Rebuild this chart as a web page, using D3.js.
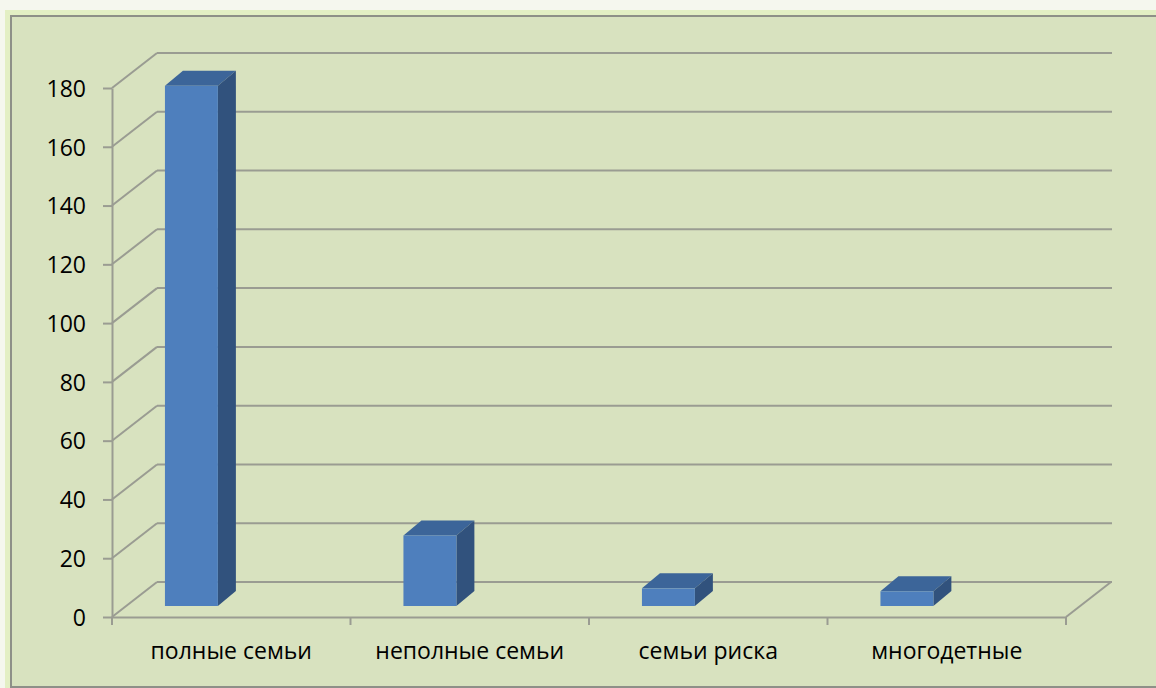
<!DOCTYPE html>
<html>
<head>
<meta charset="utf-8">
<script src="https://cdn.jsdelivr.net/npm/d3@7"></script>
<style>
  body { margin: 0; background: #f5f7ee; }
  svg { display: block; }
  text { font-family: "Open Sans", "Noto Sans", sans-serif; fill: #000; }
</style>
</head>
<body>
<div id="chart"></div>
<script>
// data
const categories = ["полные семьи", "неполные семьи", "семьи риска", "многодетные"];
const values = [177, 24, 6, 5];
const yTicks = [0, 20, 40, 60, 80, 100, 120, 140, 160, 180];

const W = 1156, H = 688;
// plot area (front plane)
const pLeft = 112, pRight = 1066, pBottom = 617, pTop = 88;
// depth of the 3d box
const wallDx = 45, wallDy = -35;
// bar placement inside the depth
const barShift = -11, barDx = 18, barDy = -15;
const gridColor = "#9a9c92";

var svg = d3.select("#chart")
    .append("svg")
    .attr("width", W)
    .attr("height", H);

// backgrounds
svg.append("rect").attr("x", 5).attr("y", 10).attr("width", W - 5).attr("height", H - 10).attr("fill", "#e3efc4");
svg.append("rect")
    .attr("x", 11).attr("y", 16).attr("width", W).attr("height", H - 17)
    .attr("fill", "#d8e2bf")
    .attr("stroke", "#8e9088")
    .attr("stroke-width", 2);

var y = d3.scaleLinear().domain([0, 180]).range([pBottom, pTop]);
var x = d3.scaleBand().domain(categories).range([pLeft, pRight]).padding(0);
const bw = x.bandwidth();

// back wall gridlines + side wall diagonals
var grid = svg.append("g").attr("stroke", gridColor).attr("stroke-width", 2).attr("fill", "none");
grid.selectAll("line.back")
    .data(yTicks)
    .join("line")
    .attr("class", "back")
    .attr("x1", pLeft + wallDx).attr("x2", pRight + wallDx + 1)
    .attr("y1", d => y(d) + wallDy).attr("y2", d => y(d) + wallDy);
grid.selectAll("line.side")
    .data(yTicks)
    .join("line")
    .attr("class", "side")
    .attr("x1", pLeft).attr("x2", pLeft + wallDx)
    .attr("y1", d => y(d)).attr("y2", d => y(d) + wallDy);
// floor: right edge
grid.append("line")
    .attr("x1", pRight).attr("y1", y(0))
    .attr("x2", pRight + wallDx).attr("y2", y(0) + wallDy);

// y axis
var yAxis = svg.append("g")
    .attr("transform", `translate(${pLeft},0)`)
    .call(d3.axisLeft(y).tickValues(yTicks).tickSize(9).tickSizeOuter(0).tickPadding(17));
yAxis.selectAll("line, path").attr("stroke", gridColor).attr("stroke-width", 2);
yAxis.selectAll("text").style("font-size", "23px").attr("dy", "0.36em");

// x axis
var xAxis = svg.append("g")
    .attr("transform", `translate(0,${pBottom})`)
    .call(d3.axisBottom(x).tickSize(0).tickSizeOuter(0).tickPadding(26));
xAxis.select(".domain").attr("stroke", gridColor).attr("stroke-width", 2);
xAxis.selectAll("text").style("font-size", "23px");
xAxis.selectAll(".bounds")
    .data(categories.concat([null]))
    .join("line")
    .attr("class", "bounds")
    .attr("x1", (d, i) => pLeft + i * bw).attr("x2", (d, i) => pLeft + i * bw)
    .attr("y1", 0).attr("y2", 8)
    .attr("stroke", gridColor).attr("stroke-width", 2);

// 3d bars
var bars = svg.selectAll("g.bar")
    .data(categories.map((c, i) => ({ key: c, value: values[i] })))
    .join("g")
    .attr("class", "bar");

function bx(d) { return x(d.key) + bw * 0.222; }
const bwid = bw * 0.222;

bars.append("path") // top face
    .attr("fill", "#3c6599")
    .attr("d", d => {
        const x0 = bx(d), yt = y(d.value) + barShift;
        return `M${x0},${yt}L${x0 + barDx},${yt + barDy}L${x0 + bwid + barDx},${yt + barDy}L${x0 + bwid},${yt}Z`;
    });
bars.append("path") // side face
    .attr("fill", "#31527d")
    .attr("d", d => {
        const x1 = bx(d) + bwid, yt = y(d.value) + barShift, yb = y(0) + barShift;
        return `M${x1},${yt}L${x1 + barDx},${yt + barDy}L${x1 + barDx},${yb + barDy}L${x1},${yb}Z`;
    });
bars.append("rect") // front face
    .attr("fill", "#4e7fbd")
    .attr("x", d => bx(d))
    .attr("width", bwid)
    .attr("y", d => y(d.value) + barShift)
    .attr("height", d => y(0) - y(d.value));
</script>
</body>
</html>
